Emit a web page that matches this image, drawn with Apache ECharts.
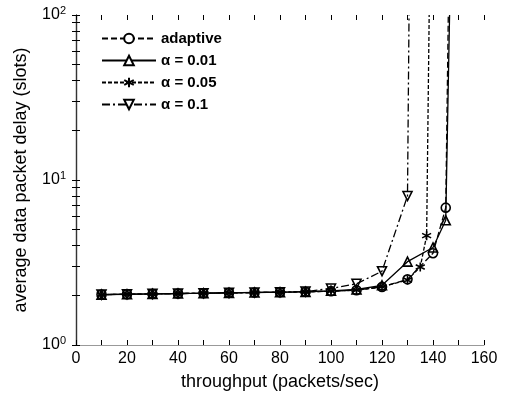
<!DOCTYPE html>
<html>
<head>
<meta charset="utf-8">
<script src="https://cdn.jsdelivr.net/npm/echarts@6/dist/echarts.min.js"></script>
<style>html,body{margin:0;padding:0;background:#fff}#c{width:508px;height:400px}</style>
</head>
<body>
<div id="c"></div>
<script>
// ---- data ----
const xAdaptive = [10,20,30,40,50,60,70,80,90,100,110,120,130,140,145,146];
const yAdaptive = [2.02,2.03,2.04,2.05,2.06,2.07,2.08,2.09,2.10,2.12,2.15,2.25,2.5,3.6,6.8,100];

const xA001 = [10,20,30,40,50,60,70,80,90,100,110,120,130,140,145,146.5];
const yA001 = [2.02,2.03,2.04,2.05,2.06,2.07,2.08,2.09,2.10,2.13,2.17,2.3,3.2,3.9,5.7,100];

const xA005 = [10,20,30,40,50,60,70,80,90,100,110,120,130,135,137.5,138.5];
const yA005 = [2.02,2.03,2.04,2.05,2.06,2.07,2.08,2.09,2.10,2.12,2.15,2.25,2.48,2.97,4.6,100];

const xA01 = [10,20,30,40,50,60,70,80,90,100,110,120,130,130.6];
const yA01 = [2.02,2.03,2.04,2.05,2.06,2.07,2.08,2.09,2.11,2.2,2.35,2.8,8.0,100];

const seriesNames = ['adaptive', '\u03b1 = 0.01', '\u03b1 = 0.05', '\u03b1 = 0.1'];
const xTickLabels = [0,20,40,60,80,100,120,140,160];
const yTickLabels = [1,10,100];
const yMinorTicks = [1,2,3,4,5,6,7,8,9,10,20,30,40,50,60,70,80,90,100];

const FONT = 'Liberation Sans, Arial, sans-serif';
const starPath = 'path://M0,-10L0,10M-8.7,-5L8.7,5M-8.7,5L8.7,-5';

function pts(xs, ys){
  return xs.map((x,i)=> i===xs.length-1 && ys[i]>=100 ? {value:[x,ys[i]], symbol:'none'} : [x,ys[i]]);
}
function mkSeries(name, xs, ys, symbol, rotate, dash){
  return {
    name, type:'line', data: pts(xs,ys), symbol, symbolSize: 9, symbolRotate: rotate,
    clip: true,
    lineStyle:{color:'#000', width:1.3, type: dash},
    itemStyle:{color:'rgba(255,255,255,0)', borderColor:'#000', borderWidth:1.6},
    emphasis:{disabled:true}, animation:false, z: 3
  };
}

const supMap = {1:'0',10:'1',100:'2'};
const chart = echarts.init(document.getElementById('c'), null, {renderer:'canvas'});
chart.setOption({
  backgroundColor:'#fff',
  animation:false,
  grid:{left:76, right:24, top:15, bottom:55},
  legend:{
    orient:'vertical', left:96, top:26, itemWidth:54, itemHeight:12, itemGap:7,
    textStyle:{fontFamily:FONT, fontSize:15, color:'#000', fontWeight:'bold'},
    itemStyle:{color:'#fff'},
    data: seriesNames
  },
  xAxis:[{
    type:'value', min:0, max:160, interval:20, position:'bottom',
    name:'throughput (packets/sec)', nameLocation:'middle', nameGap:28,
    nameTextStyle:{fontFamily:FONT, fontSize:18, color:'#000'},
    axisLine:{show:true, lineStyle:{color:'#999', width:1}},
    axisTick:{show:true, inside:true, length:5, lineStyle:{color:'#000'}},
    minorTick:{show:true, splitNumber:2, length:5, lineStyle:{color:'#000'}},
    axisLabel:{fontFamily:FONT, fontSize:16, color:'#000', margin:6,
      customValues: xTickLabels},
    splitLine:{show:false}
  },{
    type:'value', min:0, max:160, interval:20, position:'top',
    axisLine:{show:false},
    axisTick:{show:true, inside:true, length:5, lineStyle:{color:'#000'}},
    minorTick:{show:true, splitNumber:2, length:5, lineStyle:{color:'#000'}},
    axisLabel:{show:false}, splitLine:{show:false}
  }],
  yAxis:[{
    type:'log', logBase:10, min:1, max:100, position:'left',
    name:'average data packet delay (slots)', nameLocation:'middle', nameGap:46,
    nameRotate:90,
    nameTextStyle:{fontFamily:FONT, fontSize:18, color:'#000'},
    axisLine:{show:true, lineStyle:{color:'#000', width:1.2}},
    axisTick:{show:true, inside:true, length:4, customValues: yMinorTicks, lineStyle:{color:'#000'}},
    axisLabel:{
      customValues: yTickLabels, margin:10, color:'#000',
      formatter: v => '{b|10}{s|' + supMap[Math.round(v)] + '}',
      rich:{ b:{fontFamily:FONT, fontSize:16, color:'#000'},
             s:{fontFamily:FONT, fontSize:11, color:'#000', padding:[0,0,9,0]} }
    },
    splitLine:{show:false}
  },{
    type:'log', logBase:10, min:1, max:100, position:'right',
    axisLine:{show:true, lineStyle:{color:'#333', width:1.2}},
    axisTick:{show:true, inside:true, length:4, customValues: yMinorTicks, lineStyle:{color:'#000'}},
    axisLabel:{show:false}, splitLine:{show:false}
  }],
  series:[
    mkSeries(seriesNames[0], xAdaptive, yAdaptive, 'circle', 0, [6,3]),
    mkSeries(seriesNames[1], xA001, yA001, 'triangle', 0, 'solid'),
    mkSeries(seriesNames[2], xA005, yA005, starPath, 0, [4,2]),
    mkSeries(seriesNames[3], xA01, yA01, 'triangle', 180, [8,3,2,3])
  ]
});
</script>
</body>
</html>
